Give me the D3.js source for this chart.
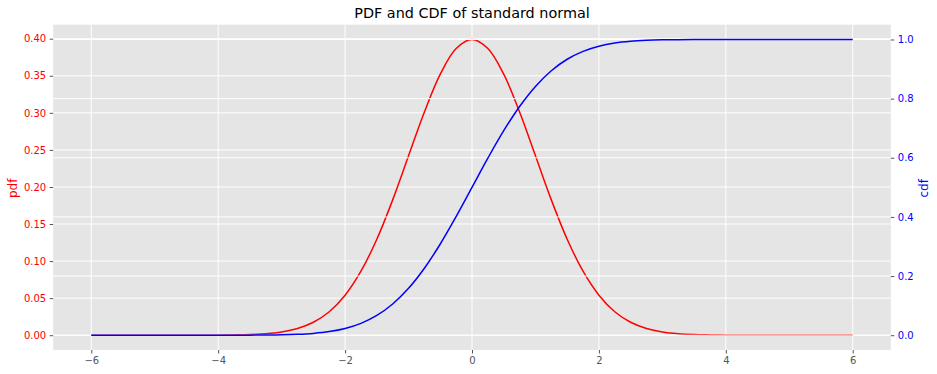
<!DOCTYPE html>
<html>
<head>
<meta charset="utf-8">
<style>
  body { margin: 0; background: #fff; }
  text { font-family: "DejaVu Sans", sans-serif; }
</style>
</head>
<body>
<script src="https://cdn.jsdelivr.net/npm/d3@7"></script>
<script>
// values, x from -6 to 6 step 0.25
var xs = [-6, -5.75, -5.5, -5.25, -5, -4.75, -4.5, -4.25, -4, -3.75, -3.5, -3.25, -3,
          -2.75, -2.5, -2.25, -2, -1.75, -1.5, -1.25, -1, -0.75, -0.5, -0.25, 0,
          0.25, 0.5, 0.75, 1, 1.25, 1.5, 1.75, 2, 2.25, 2.5, 2.75, 3,
          3.25, 3.5, 3.75, 4, 4.25, 4.5, 4.75, 5, 5.25, 5.5, 5.75, 6];
var pdfValues = [0, 0, 0, 0, 0, 0, 0, 0.0001, 0.0001, 0.0004, 0.0009, 0.0020, 0.0044,
                 0.0091, 0.0175, 0.0317, 0.0540, 0.0863, 0.1295, 0.1826, 0.2420, 0.3011, 0.3521, 0.3867, 0.3989,
                 0.3867, 0.3521, 0.3011, 0.2420, 0.1826, 0.1295, 0.0863, 0.0540, 0.0317, 0.0175, 0.0091, 0.0044,
                 0.0020, 0.0009, 0.0004, 0.0001, 0.0001, 0, 0, 0, 0, 0, 0, 0];
var cdfValues = [0, 0, 0, 0, 0, 0, 0, 0, 0, 0.0001, 0.0002, 0.0006, 0.0013,
                 0.0030, 0.0062, 0.0122, 0.0228, 0.0401, 0.0668, 0.1056, 0.1587, 0.2266, 0.3085, 0.4013, 0.5,
                 0.5987, 0.6915, 0.7734, 0.8413, 0.8944, 0.9332, 0.9599, 0.9772, 0.9878, 0.9938, 0.9970, 0.9987,
                 0.9994, 0.9998, 0.9999, 1, 1, 1, 1, 1, 1, 1, 1, 1];
var xTicks = [-6, -4, -2, 0, 2, 4, 6];
var pdfTicks = [0, 0.05, 0.10, 0.15, 0.20, 0.25, 0.30, 0.35, 0.40];
var cdfTicks = [0, 0.2, 0.4, 0.6, 0.8, 1.0];

var width = 937, height = 374;
var plot = { left: 53.2, right: 890.8, top: 24.7, bottom: 350 };

var svg = d3.select('body').append('svg')
    .attr('width', width).attr('height', height);

var x = d3.scaleLinear().domain([-6.6, 6.6]).range([plot.left, plot.right]);
var yPdf = d3.scaleLinear().domain([-0.01995, 0.41890]).range([plot.bottom, plot.top]);
var yCdf = d3.scaleLinear().domain([-0.05, 1.05]).range([plot.bottom, plot.top]);

svg.append('rect')
    .attr('x', plot.left).attr('y', plot.top)
    .attr('width', plot.right - plot.left).attr('height', plot.bottom - plot.top)
    .attr('fill', '#E5E5E5');

// grid of the left axes
var grid1 = svg.append('g').attr('stroke', '#fff').attr('stroke-width', 1);
grid1.selectAll('.gx').data(xTicks).enter().append('line')
    .attr('x1', function(d) { return x(d); }).attr('x2', function(d) { return x(d); })
    .attr('y1', plot.top).attr('y2', plot.bottom);
grid1.selectAll('.gy').data(pdfTicks).enter().append('line')
    .attr('x1', plot.left).attr('x2', plot.right)
    .attr('y1', function(d) { return yPdf(d); }).attr('y2', function(d) { return yPdf(d); });

var pts = xs.map(function(v, i) { return { x: v, pdf: pdfValues[i], cdf: cdfValues[i] }; });

svg.append('path').datum(pts)
    .attr('fill', 'none').attr('stroke', 'red').attr('stroke-width', 1.5)
    .attr('d', d3.line().curve(d3.curveCatmullRom)
        .x(function(d) { return x(d.x); }).y(function(d) { return yPdf(d.pdf); }));

// twin axes grid drawn over the red line
var grid2 = svg.append('g').attr('stroke', '#fff').attr('stroke-width', 1);
grid2.selectAll('line').data(cdfTicks).enter().append('line')
    .attr('x1', plot.left).attr('x2', plot.right)
    .attr('y1', function(d) { return yCdf(d); }).attr('y2', function(d) { return yCdf(d); });

svg.append('path').datum(pts)
    .attr('fill', 'none').attr('stroke', 'blue').attr('stroke-width', 1.5)
    .attr('d', d3.line().curve(d3.curveCatmullRom)
        .x(function(d) { return x(d.x); }).y(function(d) { return yCdf(d.cdf); }));

function styleAxis(g, color) {
    g.select('.domain').remove();
    g.selectAll('.tick line').attr('stroke', '#555555');
    g.selectAll('.tick text').attr('fill', color).style('font-size', '10px')
        .style('font-family', '"DejaVu Sans", sans-serif');
}

var minusFmt = function(d) { return d < 0 ? '\u2212' + Math.abs(d) : String(d); };

svg.append('g').attr('transform', 'translate(0,' + plot.bottom + ')')
    .call(d3.axisBottom(x).tickValues(xTicks).tickFormat(minusFmt).tickSize(3.5).tickPadding(3.5))
    .call(styleAxis, '#555555');

svg.append('g').attr('transform', 'translate(' + plot.left + ',0)')
    .call(d3.axisLeft(yPdf).tickValues(pdfTicks).tickFormat(d3.format('.2f')).tickSize(3.5).tickPadding(3.5))
    .call(styleAxis, 'red');

svg.append('g').attr('transform', 'translate(' + plot.right + ',0)')
    .call(d3.axisRight(yCdf).tickValues(cdfTicks).tickFormat(d3.format('.1f')).tickSize(3.5).tickPadding(3.5))
    .call(styleAxis, 'blue');

svg.append('text')
    .attr('x', (plot.left + plot.right) / 2).attr('y', 18)
    .attr('text-anchor', 'middle').attr('font-size', 14.4).attr('fill', '#000')
    .text('PDF and CDF of standard normal');

svg.append('text')
    .attr('transform', 'translate(17,' + ((plot.top + plot.bottom) / 2 + 1) + ') rotate(-90)')
    .attr('text-anchor', 'middle').attr('font-size', 12).attr('fill', 'red')
    .text('pdf');

svg.append('text')
    .attr('transform', 'translate(927.5,' + ((plot.top + plot.bottom) / 2 + 1) + ') rotate(-90)')
    .attr('text-anchor', 'middle').attr('font-size', 12).attr('fill', 'blue')
    .text('cdf');
</script>
</body>
</html>
